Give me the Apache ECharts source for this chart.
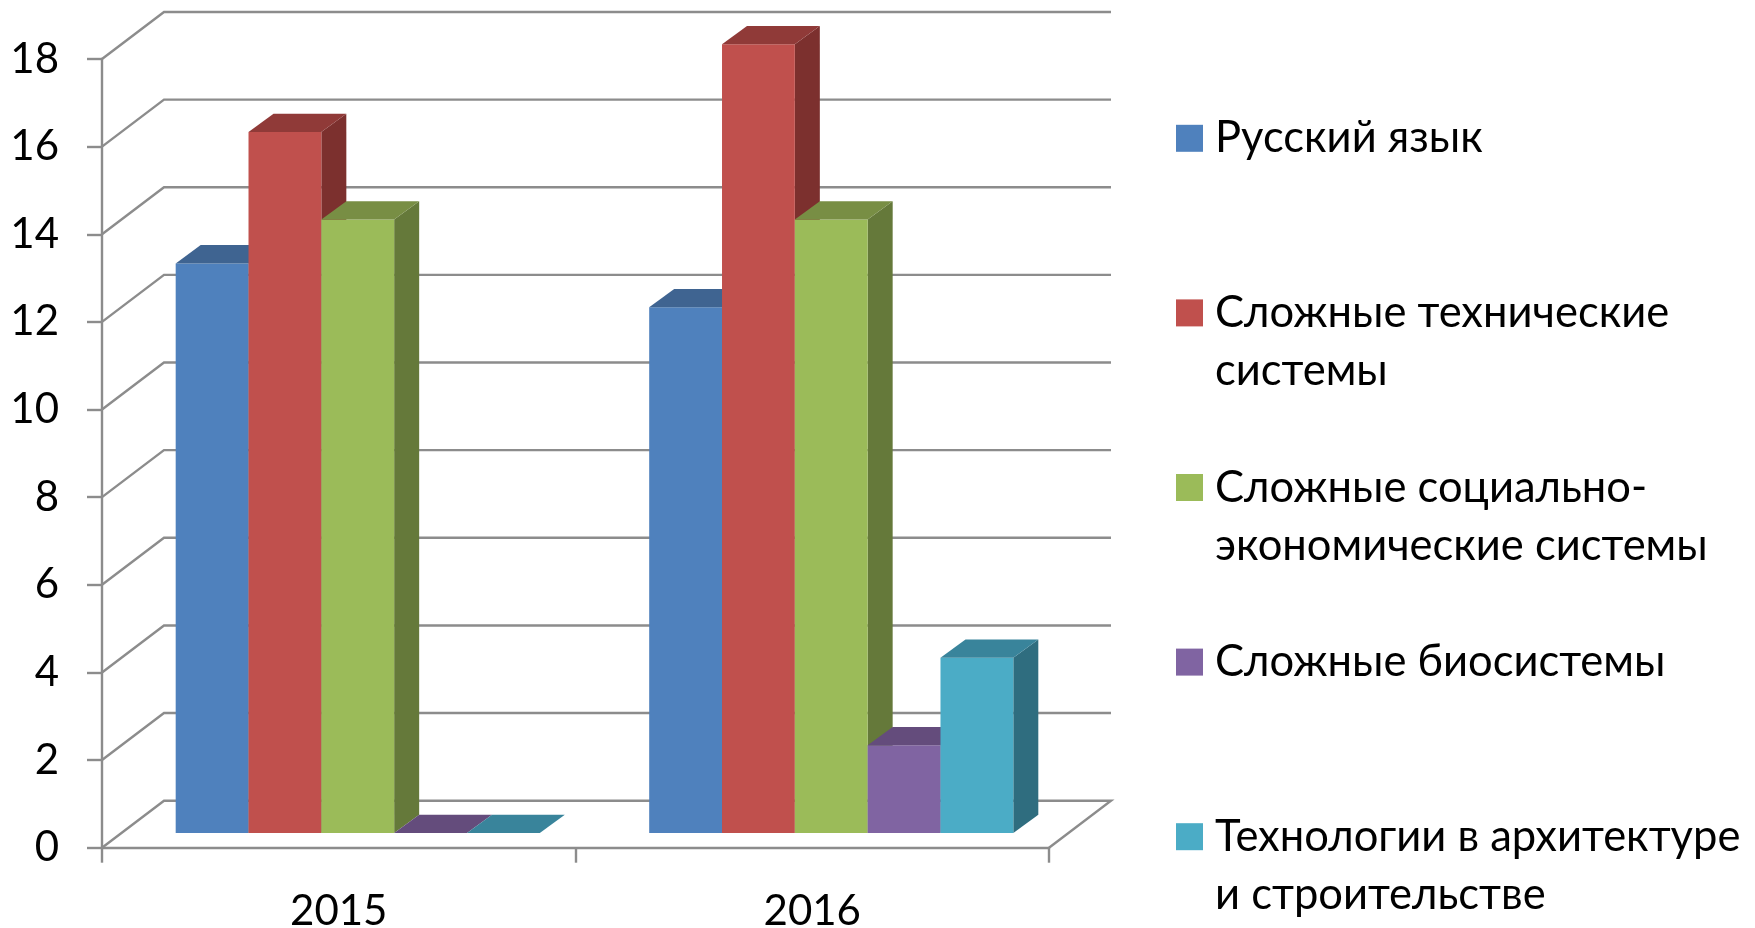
<!DOCTYPE html>
<html lang="en">
<head>
	<meta charset="UTF-8">
	<title>chart</title>
	<style>
		html, body { margin: 0; padding: 0; background: #fff; }
		#main { width: 1755px; height: 928px; }
	</style>
</head>
<body>
	<div id="main"></div>
	<script src="https://cdn.jsdelivr.net/npm/echarts@6/dist/echarts.min.js"></script>
	<script>
		var years = ['2015', '2016'];
		var yTicks = [0, 2, 4, 6, 8, 10, 12, 14, 16, 18];

		var seriesNames = ['Русский язык', 'Сложные технические системы', 'Сложные социально-экономические системы', 'Сложные биосистемы', 'Технологии в архитектуре и строительстве'];
		var legendLabels = ['Русский язык', 'Сложные технические\nсистемы', 'Сложные социально-\nэкономические системы', 'Сложные биосистемы', 'Технологии в архитектуре\nи строительстве'];

		var russian = [13, 12];
		var technical = [16, 18];
		var social = [14, 14];
		var bio = [0, 2];
		var architecture = [0, 4];
		var allValues = [russian, technical, social, bio, architecture];

		var frontColors = ['#4F81BD', '#C0504D', '#9BBB59', '#8064A2', '#4BACC6'];
		var topColors = ['#3F6491', '#903A38', '#788E44', '#644C7C', '#39849B'];
		var sideColors = ['#345780', '#7C302E', '#65793A', '#553F6B', '#2F6D7F'];

		var gridColor = '#8C8C8C';
		var gridWidth = 2.4;
		var font = 'Lato';

		// pseudo 3D offsets, px
		var wallDx = 62, wallDy = -47;
		var barShiftX = 19, barShiftY = -14.7;
		var barDx = 25, barDy = -18.3;
		var barRatio = 0.1538;

		var myChart = echarts.init(document.getElementById('main'));

		function renderWalls(params, api) {
			var box = params.coordSys;
			var y = api.coord([0, api.value(0)])[1];
			var style = { stroke: gridColor, lineWidth: gridWidth, fill: null };
			var shape = [
				[box.x, y],
				[box.x + wallDx, y + wallDy],
				[box.x + box.width + wallDx, y + wallDy]
			];
			// floor also closes on the right side
			if (api.value(0) === 0) {
				shape.push([box.x + box.width, y]);
			}
			return { type: 'polyline', shape: { points: shape }, style: style, silent: true };
		}

		function makeBarRender(index) {
			return function (params, api) {
				var top = api.coord([api.value(0), api.value(1)]);
				var base = api.coord([api.value(0), 0]);
				var w = api.size([1, 0])[0] * barRatio;
				var x0 = top[0] + barShiftX + (index - 2.5) * w;
				var x1 = x0 + w;
				var y0 = top[1] + barShiftY;
				var y1 = base[1] + barShiftY;
				var children = [];
				if (y1 > y0) {
					children.push({
						type: 'polygon',
						shape: { points: [[x1, y0], [x1 + barDx, y0 + barDy], [x1 + barDx, y1 + barDy], [x1, y1]] },
						style: { fill: sideColors[index] }
					});
					children.push({
						type: 'rect',
						shape: { x: x0, y: y0, width: w, height: y1 - y0 },
						style: { fill: frontColors[index] }
					});
				}
				children.push({
					type: 'polygon',
					shape: { points: [[x0, y0], [x0 + barDx, y0 + barDy], [x1 + barDx, y0 + barDy], [x1, y0]] },
					style: { fill: topColors[index] }
				});
				return { type: 'group', children: children };
			};
		}

		var series = [{
			type: 'custom',
			name: 'walls',
			data: yTicks.map(function (v) { return [v]; }),
			encode: { y: 0 },
			renderItem: renderWalls,
			silent: true,
			z: 1
		}];

		allValues.forEach(function (values, i) {
			series.push({
				type: 'custom',
				name: seriesNames[i],
				data: values.map(function (v, k) { return [k, v]; }),
				encode: { x: 0, y: 1 },
				renderItem: makeBarRender(i),
				itemStyle: { color: frontColors[i] },
				z: 3
			});
		});

		var option = {
			backgroundColor: '#fff',
			animation: false,
			grid: { left: 102, top: 59, width: 947, height: 788.7, outerBoundsMode: 'none' },
			xAxis: {
				type: 'category',
				data: years,
				axisLine: { lineStyle: { color: gridColor, width: gridWidth } },
				axisTick: { show: true, length: 15, lineStyle: { color: gridColor, width: gridWidth } },
				axisLabel: { color: '#000', fontFamily: font, fontSize: 42, margin: 43 },
				splitLine: { show: false }
			},
			yAxis: {
				type: 'value',
				min: 0,
				max: 18,
				interval: 2,
				axisLine: { show: true, lineStyle: { color: gridColor, width: gridWidth } },
				axisTick: { show: true, length: 15, lineStyle: { color: gridColor, width: gridWidth } },
				axisLabel: { color: '#000', fontFamily: font, fontSize: 42, margin: 43, padding: [7, 0, 0, 0] },
				splitLine: { show: false }
			},
			legend: {
				orient: 'vertical',
				left: 1171,
				top: 46,
				height: 1000,
				itemWidth: 27,
				itemHeight: 27,
				itemGap: 0,
				icon: 'rect',
				selectedMode: false,
				data: seriesNames,
				// every item gets three lines so the marker sits on the first text line
				formatter: function (name) {
					var label = legendLabels[seriesNames.indexOf(name)];
					return label.indexOf('\n') >= 0 ? '\n' + label : '\n' + label + '\n ';
				},
				textStyle: { color: '#000', fontFamily: font, fontSize: 43.5, lineHeight: 58.2, padding: [0, 0, 0, 7] }
			},
			series: series
		};

		myChart.setOption(option);
	</script>
</body>
</html>
